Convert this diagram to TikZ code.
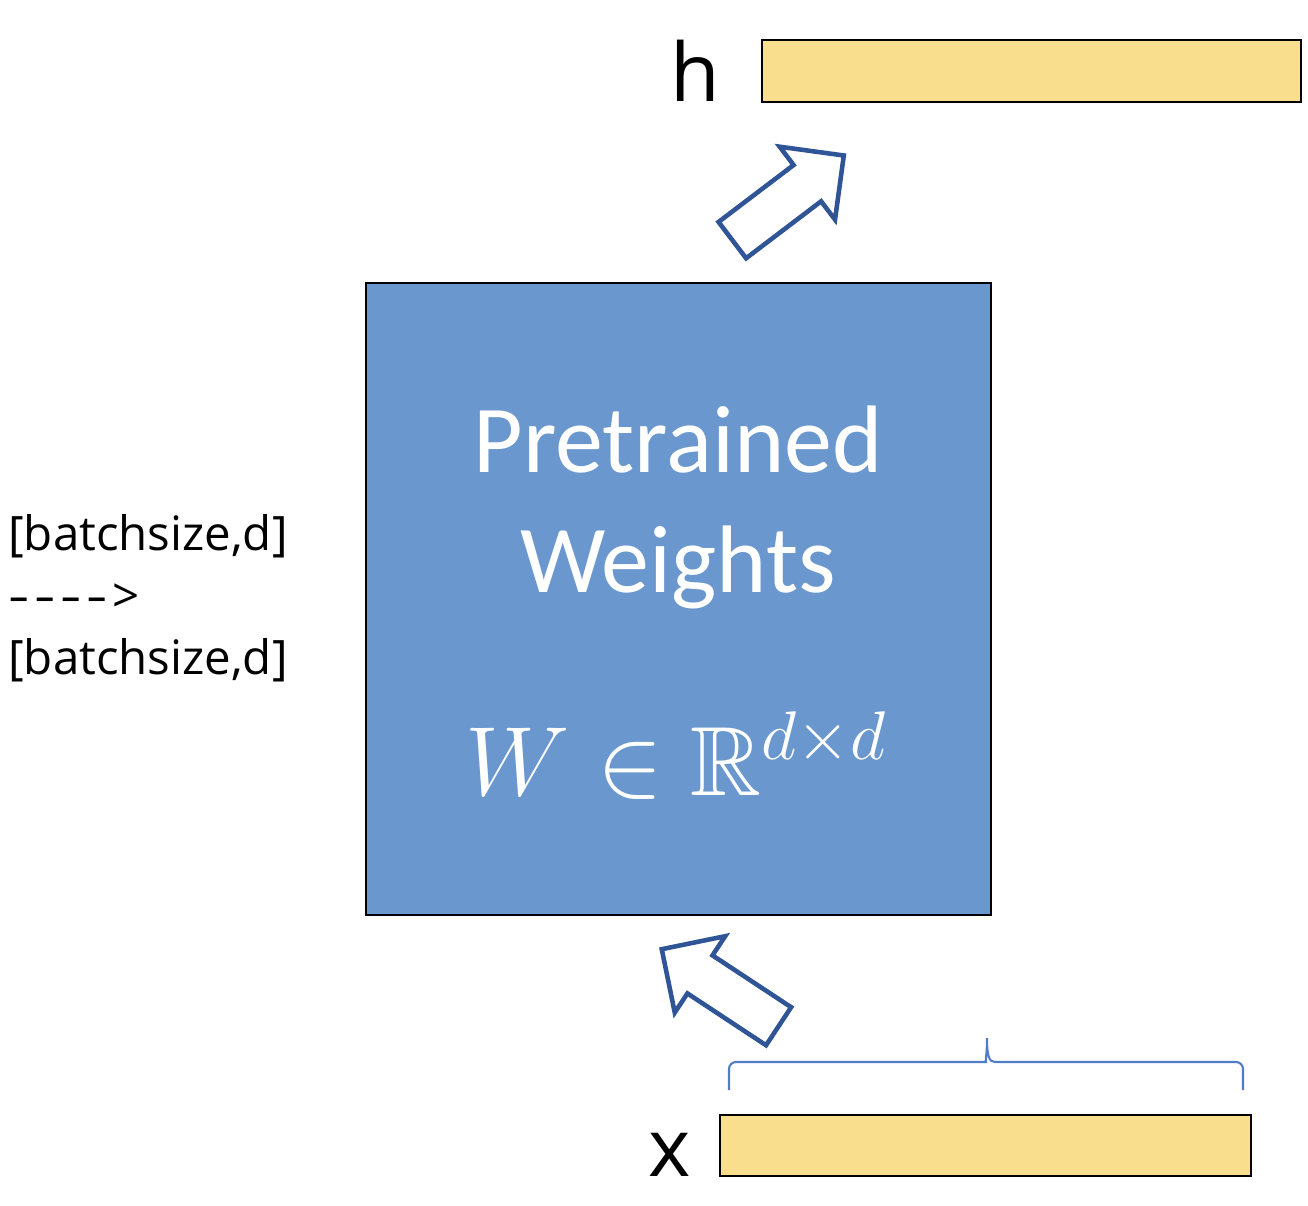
\RequirePackage{fix-cm}
\documentclass[tikz,border=0pt]{standalone}
\usepackage{amsmath,amssymb}
\usepackage{fontspec}
\setmainfont{Carlito}
\newfontfamily\labelfont{Open Sans}
\usetikzlibrary{shapes.arrows, positioning, calc}
\definecolor{weightblue}{RGB}{106,152,206}
\definecolor{vecyellow}{RGB}{249,223,141}
\definecolor{arrowblue}{RGB}{47,85,151}
\definecolor{braceblue}{RGB}{80,124,200}
\newcommand\longdash{\scalebox{1.4}[1]{-}\kern0.1em}

\begin{document}
\begin{tikzpicture}[
    x=0.02cm, y=-0.02cm,
    vecbar/.style={draw=black, line width=1.4pt, fill=vecyellow, inner sep=0pt, minimum height=1.23cm},
    weightbox/.style={draw=black, line width=1.4pt, fill=weightblue, inner sep=0pt, minimum width=12.5cm, minimum height=12.64cm},
    boxtext/.style={text=white, font=\fontsize{54.6}{66}\selectfont, inner sep=0pt, anchor=base},
    veclabel/.style={font=\labelfont\fontsize{46}{55}\selectfont, inner sep=0pt, anchor=base},
    shapelabel/.style={font=\labelfont\fontsize{27}{35.3}\selectfont, align=left, inner sep=0pt, anchor=west},
    blockarrow/.style={single arrow, draw=arrowblue, fill=white, line width=2.6pt, inner xsep=0pt, inner ysep=0.41cm, minimum height=2.8cm, single arrow head extend=0.46cm, single arrow tip angle=90, anchor=tail},
    bracket/.style={draw=braceblue, line width=1.2pt}
  ]
    \useasboundingbox (0,0) rectangle (1308,1206);
    % weight matrix
    \node[weightbox] (weights) at (678.5,599) {};
    \node[boxtext] (pre) at (678,472) {Pretrained};
    \node[boxtext] (wts) at (678,592) {Weights};
    \node[boxtext, font=\fontsize{56}{66}\selectfont] (wdef) at (676,795) {$W\in\mathbb{R}^{d\times d}$};
    % input and output vectors
    \node[vecbar, minimum width=10.78cm] (hbar) at (1031.5,71) {};
    \node[veclabel] (hlab) at (695,102) {h};
    \node[vecbar, minimum width=10.62cm] (xbar) at (985.5,1145.5) {};
    \node[veclabel] (xlab) at (670,1176) {x};
    % block arrows
    \node[blockarrow, rotate=37.2] (inarrow) at (730.5,241.5) {};
    \node[blockarrow, rotate=146.6] (outarrow) at (780.5,1027.5) {};
    % brace over x
    \draw[bracket] (729,1090) [rounded corners=4pt] -- (729,1062) -- (979,1062) [sharp corners]
      .. controls (985,1062) and (987,1056) .. (987,1038)
      .. controls (987,1056) and (989,1062) .. (995,1062) [rounded corners=4pt] -- (1243,1062) -- (1243,1090);
    % shapes
    \node[shapelabel] (shapes) at (8,598) {{[}batchsize,d{]}\\\longdash\longdash\longdash\longdash>\\{[}batchsize,d{]}};
\end{tikzpicture}
\end{document}
